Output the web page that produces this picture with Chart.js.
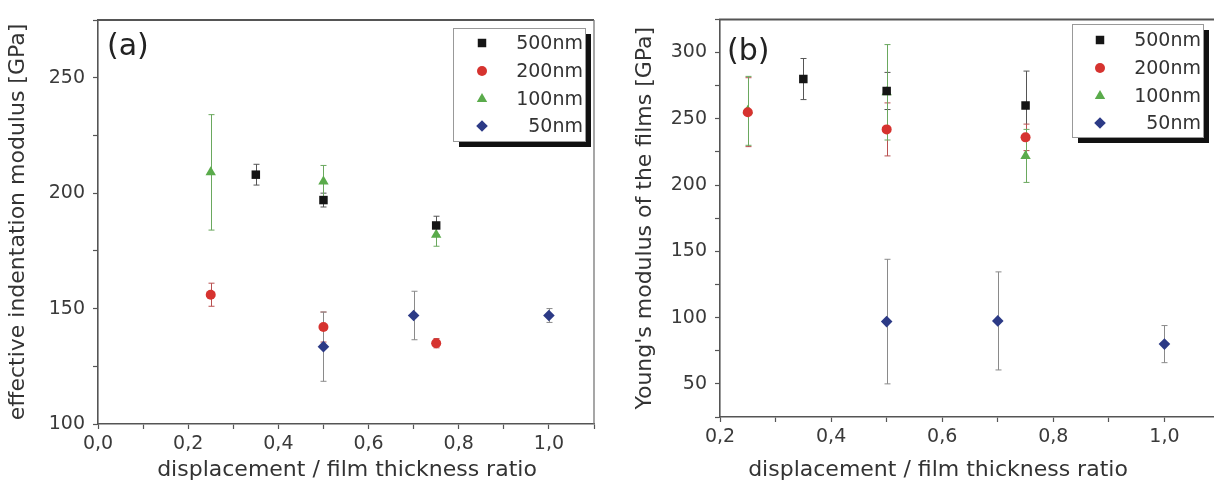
<!DOCTYPE html>
<html>
<head>
<meta charset="utf-8">
<script src="https://cdn.jsdelivr.net/npm/chart.js@4.4.1/dist/chart.umd.min.js"></script>
<style>
  html, body { margin: 0; padding: 0; background: #fff; overflow: hidden; }
  #wrapA { position: absolute; left: 0; top: 0; }
  #wrapB { position: absolute; left: 600px; top: 0; }
</style>
</head>
<body>
<div id="wrapA"><canvas id="panelA" width="600" height="494"></canvas></div>
<div id="wrapB"><canvas id="panelB" width="626" height="494"></canvas></div>
<script>
// series names, same for both panels
const seriesLabels = ['500nm', '200nm', '100nm', '50nm'];

// (a) effective indentation modulus [GPa] vs displacement / thickness
const a500x = [0.35, 0.5, 0.75];
const a500y = [208, 197, 186];
const a500err = [4.5, 3, 4];
const a200x = [0.25, 0.5, 0.75];
const a200y = [156, 142, 135];
const a200err = [5, 6.5, 2];
const a100x = [0.25, 0.5, 0.75];
const a100y = [209, 205, 182];
const a100err = [25, 7, 5];
const a50x = [0.5, 0.7, 1.0];
const a50y = [133.5, 147, 147];
const a50err = [15, 10.5, 3];

// (b) Young's modulus of the films [GPa]
const b500x = [0.35, 0.5, 0.75];
const b500y = [280, 271, 260];
const b500err = [15.5, 14, 26];
const b200x = [0.25, 0.5, 0.75];
const b200y = [255, 242, 236];
const b200err = [26, 20, 10];
const b100x = [0.25, 0.5, 0.75];
const b100y = [256, 270, 222];
const b100err = [26, 36, 20];
const b50x = [0.5, 0.7, 1.0];
const b50y = [97, 97.5, 80];
const b50err = [47, 37, 14];

// tick labels (comma decimals as in the figure)
const xLabelsA = ['0,0', '0,2', '0,4', '0,6', '0,8', '1,0'];
const xLabelsB = ['0,2', '0,4', '0,6', '0,8', '1,0'];
const yLabelsA = [100, 150, 200, 250];
const yLabelsB = [50, 100, 150, 200, 250, 300];

const FONT = "'DejaVu Sans', 'Liberation Sans', Arial, sans-serif";
const colors = ['#151515', '#d6332f', '#5aab4b', '#2c3a86'];
const errColors = ['#555', '#b95050', '#6aa85e', '#8a8a8a'];
const styles = ['rect', 'circle', 'triangle', 'rectRot'];
const radii = [6, 5, 6, 5.8];

function pts(xs, ys, es) {
  return xs.map((x, i) => ({ x: x, y: ys[i], err: es[i] }));
}

function drawMarker(ctx, style, x, y, r) {
  ctx.beginPath();
  if (style === 'rect') {
    const s = Math.SQRT1_2 * r;
    ctx.rect(x - s, y - s, 2 * s, 2 * s);
  } else if (style === 'circle') {
    ctx.arc(x, y, r, 0, Math.PI * 2);
  } else if (style === 'triangle') {
    for (let k = 0; k < 3; k++) {
      const a = k * 2 * Math.PI / 3;
      const px = x + Math.sin(a) * r, py = y - Math.cos(a) * r;
      if (k === 0) ctx.moveTo(px, py); else ctx.lineTo(px, py);
    }
    ctx.closePath();
  } else {
    ctx.moveTo(x, y - r); ctx.lineTo(x + r, y); ctx.lineTo(x, y + r); ctx.lineTo(x - r, y);
    ctx.closePath();
  }
  ctx.fill();
}

// vertical error bars with caps, drawn under the markers
const errorBars = {
  id: 'errorBars',
  beforeDatasetsDraw(chart) {
    const ctx = chart.ctx, x = chart.scales.x, y = chart.scales.y;
    chart.data.datasets.forEach(ds => {
      ctx.save();
      ctx.strokeStyle = ds.errColor;
      ctx.lineWidth = 1;
      ds.data.forEach(p => {
        const px = Math.round(x.getPixelForValue(p.x)) + 0.5;
        const t = y.getPixelForValue(p.y + p.err), b = y.getPixelForValue(p.y - p.err);
        ctx.beginPath();
        ctx.moveTo(px, t); ctx.lineTo(px, b);
        ctx.moveTo(px - 3, t); ctx.lineTo(px + 3, t);
        ctx.moveTo(px - 3, b); ctx.lineTo(px + 3, b);
        ctx.stroke();
      });
      ctx.restore();
    });
  }
};

// top/right frame, panel letter, x title and the boxed legend
const decor = {
  id: 'decor',
  afterDraw(chart, args, o) {
    const ctx = chart.ctx, ca = chart.chartArea;
    ctx.save();
    ctx.strokeStyle = '#555';
    ctx.lineWidth = 2;
    ctx.beginPath();
    ctx.moveTo(ca.left - 1, ca.top); ctx.lineTo(ca.right, ca.top);
    ctx.stroke();
    ctx.strokeStyle = '#777';
    ctx.lineWidth = 1.3;
    ctx.beginPath();
    ctx.moveTo(ca.right, ca.top); ctx.lineTo(ca.right, ca.bottom);
    ctx.stroke();

    ctx.fillStyle = '#222';
    ctx.font = '30px ' + FONT;
    ctx.textAlign = 'left';
    ctx.textBaseline = 'middle';
    ctx.fillText(o.letter, o.letterX, o.letterY);

    ctx.fillStyle = '#333';
    ctx.font = '22px ' + FONT;
    ctx.textAlign = 'center';
    ctx.fillText(o.xTitle, o.xTitleX, 470);

    const L = o.legend;
    ctx.fillStyle = '#111';
    ctx.fillRect(L.left + 6, L.top + 6, L.width, L.height);
    ctx.fillStyle = '#fff';
    ctx.fillRect(L.left, L.top, L.width, L.height);
    ctx.strokeStyle = '#999';
    ctx.lineWidth = 1;
    ctx.strokeRect(L.left + 0.5, L.top + 0.5, L.width, L.height);
    ctx.font = '19px ' + FONT;
    ctx.textAlign = 'right';
    chart.data.datasets.forEach((ds, i) => {
      const yy = L.top + L.rows[i];
      ctx.fillStyle = ds.backgroundColor;
      drawMarker(ctx, ds.pointStyle, L.left + L.markerX, yy, ds.pointRadius);
      ctx.fillStyle = '#333';
      ctx.fillText(ds.label, L.left + L.width - 2, yy + 1);
    });
    ctx.restore();
  }
};

function makePanel(id, series, opt) {
  const datasets = series.map((d, i) => ({
    label: seriesLabels[i],
    data: d,
    pointStyle: styles[i],
    pointRadius: radii[i],
    backgroundColor: colors[i],
    borderColor: colors[i],
    borderWidth: 0,
    errColor: errColors[i]
  }));
  return new Chart(document.getElementById(id), {
    type: 'scatter',
    data: { datasets: datasets },
    options: {
      responsive: false,
      animation: false,
      layout: { padding: { top: opt.top, right: opt.right, left: 0, bottom: 0 } },
      plugins: {
        legend: { display: false },
        tooltip: { enabled: false },
        decor: opt.decor
      },
      scales: {
        x: {
          type: 'linear', min: opt.xMin, max: opt.xMax,
          afterFit: s => { s.height = opt.xHeight; },
          grid: { drawOnChartArea: false, drawTicks: true, tickLength: 5, tickColor: '#555', tickWidth: 1.2 },
          border: { display: true, color: '#555', width: 1.6 },
          ticks: {
            stepSize: 0.1, autoSkip: false, maxRotation: 0, padding: 4,
            color: '#3a3a3a', font: { family: FONT, size: 19 },
            callback: v => {
              const k = Math.round((v - opt.xMin) * 5 * 1000) / 1000;
              return Number.isInteger(k) ? opt.xLabels[k] : '';
            }
          }
        },
        y: {
          type: 'linear', min: opt.yMin, max: opt.yMax,
          afterFit: s => { s.width = opt.yWidth; },
          grid: { drawOnChartArea: false, drawTicks: true, tickLength: 5, tickColor: '#555', tickWidth: 1.2 },
          border: { display: true, color: '#555', width: 1.6 },
          ticks: {
            stepSize: 25, autoSkip: false, padding: 8,
            color: '#3a3a3a', font: { family: FONT, size: 19 },
            callback: v => opt.yLabels.includes(v) ? String(v) : ''
          },
          title: {
            display: true, text: opt.yTitle, color: '#333',
            font: { family: FONT, size: 22 }, padding: { top: opt.yTitlePad, bottom: 0 }
          }
        }
      }
    },
    plugins: [errorBars, decor]
  });
}

makePanel('panelA',
  [pts(a500x, a500y, a500err), pts(a200x, a200y, a200err), pts(a100x, a100y, a100err), pts(a50x, a50y, a50err)],
  {
    xMin: 0, xMax: 1.1, yMin: 100, yMax: 275,
    xLabels: xLabelsA, yLabels: yLabelsA,
    top: 20, right: 3, xHeight: 70, yWidth: 98, yTitlePad: 5,
    yTitle: 'effective indentation modulus [GPa]',
    decor: {
      letter: '(a)', letterX: 107, letterY: 47,
      xTitle: 'displacement / film thickness ratio', xTitleX: 347,
      legend: { left: 453, top: 28, width: 132, height: 113, markerX: 29, rows: [15, 43, 71, 98] }
    }
  });

makePanel('panelB',
  [pts(b500x, b500y, b500err), pts(b200x, b200y, b200err), pts(b100x, b100y, b100err), pts(b50x, b50y, b50err)],
  {
    xMin: 0.2, xMax: 1.1, yMin: 25, yMax: 325,
    xLabels: xLabelsB, yLabels: yLabelsB,
    top: 18, right: 2, xHeight: 77, yWidth: 120, yTitlePad: 32,
    yTitle: "Young's modulus of the films [GPa]",
    decor: {
      letter: '(b)', letterX: 127, letterY: 52,
      xTitle: 'displacement / film thickness ratio', xTitleX: 338,
      legend: { left: 472, top: 24, width: 131, height: 113, markerX: 28, rows: [16, 44, 72, 99] }
    }
  });
</script>
</body>
</html>
